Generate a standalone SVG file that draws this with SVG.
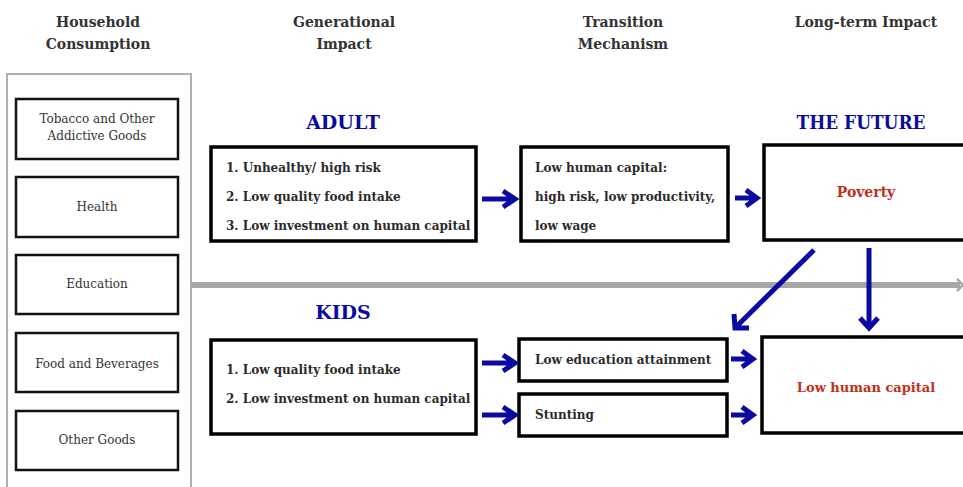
<svg xmlns="http://www.w3.org/2000/svg" width="963" height="487" viewBox="0 0 963 487">
  <style>
    text { font-family: "DejaVu Serif", "Liberation Serif", serif; fill: #2b2b2b; }
    .head { font-size: 14px; font-weight: bold; text-anchor: middle; fill: #333; }
    .group { font-size: 19px; font-weight: bold; text-anchor: middle; fill: #0a0aa0; }
    .item { font-size: 12px; text-anchor: middle; fill: #333; }
    .body { font-size: 12px; font-weight: bold; fill: #2b2b2b; }
    .result { font-size: 14px; font-weight: bold; text-anchor: middle; fill: #c0301a; }
    .box { fill: #fff; stroke: #000; stroke-width: 3.5; }
    .cat { fill: #fff; stroke: #111; stroke-width: 2.5; }
    .panel { fill: #fff; stroke: #b0b0b0; stroke-width: 2; }
    .arrow { fill: none; stroke: #0a0aa0; stroke-width: 5; }
    .divider { stroke: #a8a8a8; stroke-width: 6; fill: none; }
  </style>

  <rect width="963" height="487" fill="#fff"/>

  <!-- column headings -->
  <g id="headings">
    <text class="head" x="98" y="27">Household</text>
    <text class="head" x="98" y="49">Consumption</text>
    <text class="head" x="344" y="27">Generational</text>
    <text class="head" x="344" y="49">Impact</text>
    <text class="head" x="623" y="27">Transition</text>
    <text class="head" x="623" y="49">Mechanism</text>
    <text class="head" x="866" y="27">Long-term Impact</text>
  </g>

  <!-- household consumption panel -->
  <g id="consumption">
    <path class="panel" d="M7,490 V74 H191 V490"/>
    <g id="tobacco">
      <rect class="cat" x="16" y="99" width="162" height="60"/>
      <text class="item" x="97" y="123">Tobacco and Other</text>
      <text class="item" x="97" y="140">Addictive Goods</text>
    </g>
    <g id="health">
      <rect class="cat" x="16" y="177" width="162" height="60"/>
      <text class="item" x="97" y="211">Health</text>
    </g>
    <g id="education">
      <rect class="cat" x="16" y="255" width="162" height="59"/>
      <text class="item" x="97" y="288">Education</text>
    </g>
    <g id="food">
      <rect class="cat" x="16" y="333" width="162" height="59"/>
      <text class="item" x="97" y="368">Food and Beverages</text>
    </g>
    <g id="other">
      <rect class="cat" x="16" y="411" width="162" height="59"/>
      <text class="item" x="97" y="444">Other Goods</text>
    </g>
  </g>

  <!-- generation divider -->
  <g id="divider">
    <line class="divider" x1="191" y1="285" x2="960" y2="285"/>
    <polyline points="957,279 963,285 957,291" fill="none" stroke="#a8a8a8" stroke-width="2.5"/>
  </g>

  <!-- group labels -->
  <text class="group" x="343" y="129">ADULT</text>
  <text class="group" x="343" y="319">KIDS</text>
  <text class="group" x="861" y="129" textLength="129" lengthAdjust="spacingAndGlyphs">THE FUTURE</text>

  <!-- adult generation -->
  <g id="adult">
    <rect class="box" x="211" y="147" width="265" height="94"/>
    <text class="body" x="226" y="172">1. Unhealthy/ high risk</text>
    <text class="body" x="226" y="201">2. Low quality food intake</text>
    <text class="body" x="226" y="230">3. Low investment on human capital</text>
  </g>

  <g id="adult-mechanism">
    <rect class="box" x="521" y="147" width="207" height="94"/>
    <text class="body" x="535" y="172">Low human capital:</text>
    <text class="body" x="535" y="201">high risk, low productivity,</text>
    <text class="body" x="535" y="230">low wage</text>
  </g>

  <g id="poverty">
    <rect class="box" x="764" y="145" width="205" height="95"/>
    <text class="result" x="866" y="197">Poverty</text>
  </g>

  <!-- kids generation -->
  <g id="kids">
    <rect class="box" x="211" y="340" width="265" height="94"/>
    <text class="body" x="226" y="374">1. Low quality food intake</text>
    <text class="body" x="226" y="403">2. Low investment on human capital</text>
  </g>

  <g id="low-education">
    <rect class="box" x="519" y="339" width="208" height="42"/>
    <text class="body" x="535" y="364">Low education attainment</text>
  </g>

  <g id="stunting">
    <rect class="box" x="519" y="394" width="208" height="42"/>
    <text class="body" x="535" y="419">Stunting</text>
  </g>

  <g id="low-human-capital">
    <rect class="box" x="762" y="337" width="207" height="96"/>
    <text class="result" x="866" y="392" style="font-size:13px">Low human capital</text>
  </g>

  <!-- connectors -->
  <g id="connectors">
    <!-- adult chain -->
    <path class="arrow" d="M482,199 H514 M503,191 L515,199 L503,207"/>
    <path class="arrow" d="M735,198 H755 M746,190 L757,198 L746,206"/>
    <!-- kids chain -->
    <path class="arrow" d="M482,363 H514 M503,355 L515,363 L503,371"/>
    <path class="arrow" d="M482,415 H514 M503,407 L515,415 L503,423"/>
    <path class="arrow" d="M731,359 H751 M742,351 L753,359 L742,367"/>
    <path class="arrow" d="M731,415 H751 M742,407 L753,415 L742,423"/>
    <!-- poverty feeding back into the next generation -->
    <path class="arrow" d="M814,250 L737,326 M734,314 L735,328 L749,328"/>
    <path class="arrow" d="M869,248 V328 M860,318 L869,328 L878,318"/>
  </g>
</svg>
